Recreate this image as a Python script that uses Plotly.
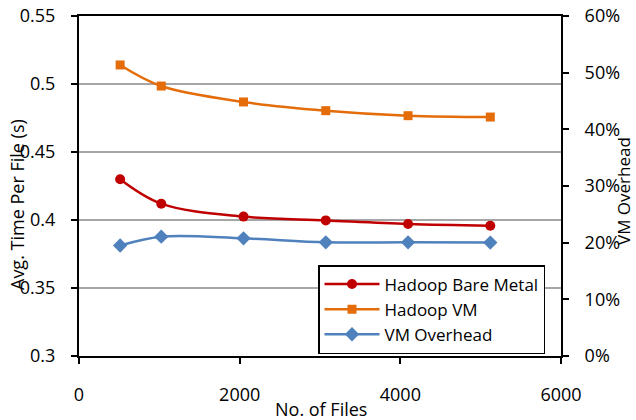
import plotly.graph_objects as go

files = [512, 1024, 2048, 3072, 4096, 5120]
bare_metal = [0.430, 0.412, 0.4025, 0.3997, 0.397, 0.3958]
hadoop_vm = [0.514, 0.4985, 0.4868, 0.4804, 0.4767, 0.4757]
vm_overhead = [0.195, 0.2105, 0.2076, 0.2006, 0.2006, 0.2002]

left_ticks = [0.3, 0.35, 0.4, 0.45, 0.5, 0.55]
left_labels = ["0.3", "0.35", "0.4", "0.45", "0.5", "0.55"]
x_ticks = [0, 2000, 4000, 6000]

FONT = "Open Sans"
RED = "#C00000"
ORANGE = "#E46C0A"
BLUE = "#4F81BD"

fig = go.Figure()
fig.add_trace(go.Scatter(x=files, y=bare_metal, name="Hadoop Bare Metal",
                         mode="lines+markers", line=dict(color=RED, width=2.5, shape="spline"),
                         marker=dict(symbol="circle", size=10, color=RED),
                         legendgroup="a"))
fig.add_trace(go.Scatter(x=files, y=hadoop_vm, name="Hadoop VM",
                         mode="lines+markers", line=dict(color=ORANGE, width=2.5, shape="spline"),
                         marker=dict(symbol="square", size=9, color=ORANGE),
                         legendgroup="b"))
fig.add_trace(go.Scatter(x=files, y=vm_overhead, name="VM Overhead", yaxis="y2",
                         mode="lines+markers", line=dict(color=BLUE, width=2.5, shape="spline"),
                         marker=dict(symbol="diamond", size=11, color=BLUE),
                         legendgroup="c"))

fig.update_layout(
    width=636, height=420,
    margin=dict(l=79, r=75, t=16, b=64, autoexpand=False),
    paper_bgcolor="white", plot_bgcolor="white",
    font=dict(family=FONT, size=18, color="black"),
    showlegend=True,
    legend=dict(x=(318 - 79) / 482, y=(356 - 265) / 340, xanchor="left", yanchor="top",
                bordercolor="black", borderwidth=1.5, bgcolor="white",
                font=dict(family=FONT, size=17, color="black"),
                itemwidth=55,
                tracegroupgap=5, traceorder="normal"),
    xaxis=dict(range=[0, 6000], tickvals=x_ticks, showgrid=False, automargin=False,
               showline=True, linecolor="black", linewidth=2, mirror=True,
               ticks="outside", ticklen=6, tickwidth=2, tickcolor="black",
               ticklabelstandoff=15, zeroline=False),
    yaxis=dict(range=[0.3, 0.55], tickvals=left_ticks, ticktext=left_labels, automargin=False,
               showgrid=True, gridcolor="#A6A6A6", gridwidth=1.5,
               showline=True, linecolor="black", linewidth=2,
               ticks="outside", ticklen=6, tickwidth=2, tickcolor="black",
               ticklabelstandoff=12, zeroline=False),
    yaxis2=dict(range=[0, 0.6], dtick=0.1, tickformat=".0%", overlaying="y", side="right",
                showgrid=False, showline=True, linecolor="black", linewidth=2, automargin=False,
                ticks="outside", ticklen=6, tickwidth=2, tickcolor="black",
                ticklabelstandoff=12, zeroline=False),
    annotations=[
        dict(text="Avg. Time Per File (s)", xref="paper", yref="paper",
             x=(17 - 79) / 482, y=(356 - 205) / 340, textangle=-90, showarrow=False,
             xanchor="center", yanchor="middle", font=dict(family=FONT, size=18)),
        dict(text="VM Overhead", xref="paper", yref="paper",
             x=(624 - 79) / 482, y=(356 - 191) / 340, textangle=-90, showarrow=False,
             xanchor="center", yanchor="middle", font=dict(family=FONT, size=17)),
        dict(text="No. of Files", xref="paper", yref="paper",
             x=(321 - 79) / 482, y=(356 - 409) / 340, showarrow=False,
             xanchor="center", yanchor="middle", font=dict(family=FONT, size=18)),
    ],
)

fig.write_html("out.html")
